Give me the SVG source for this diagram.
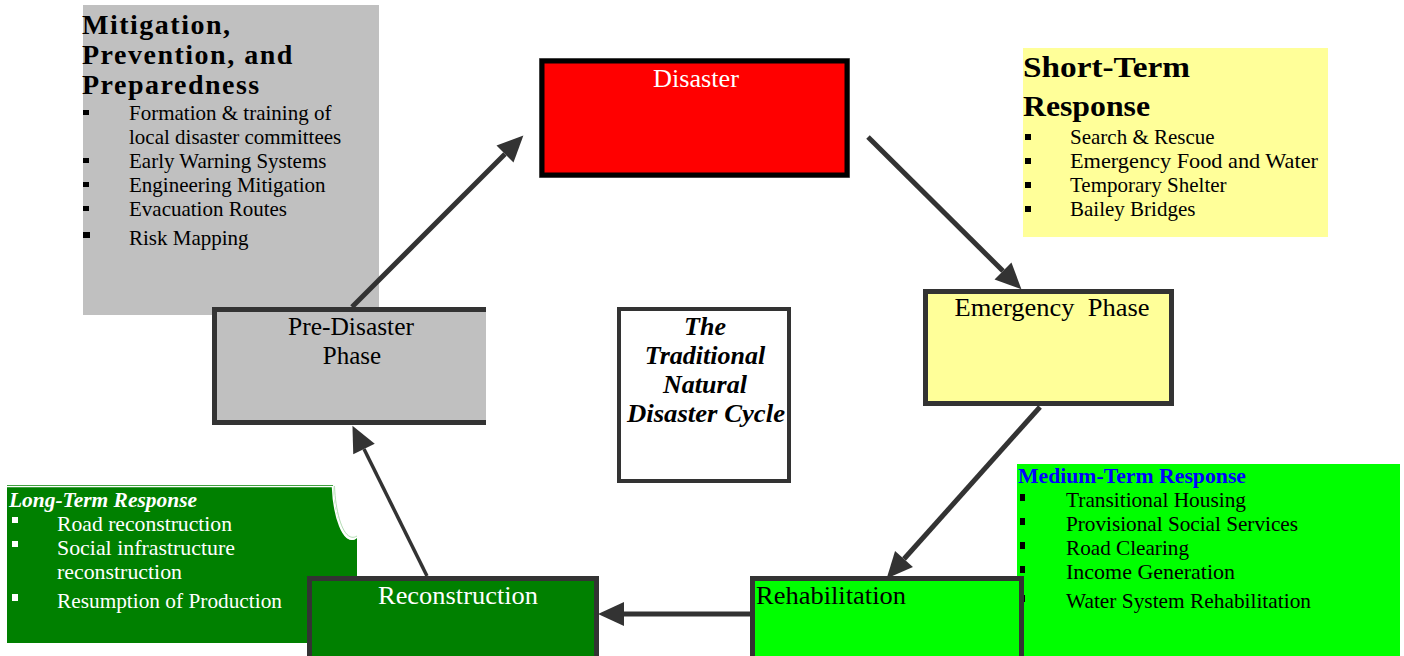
<svg xmlns="http://www.w3.org/2000/svg" width="1404" height="656" viewBox="0 0 1404 656">
<style>
text{font-family:"Liberation Serif","Times New Roman",serif;}
.b{font-size:21px;fill:#000;}
.bw{font-size:21px;fill:#fff;}
.ph{font-size:25px;}
.ttl{font-weight:bold;}
.frame{stroke:#333;stroke-width:5;}
.arr{stroke:#333;stroke-width:5;fill:none;marker-end:url(#ah);}
</style>
<defs>
<marker id="ah" markerUnits="userSpaceOnUse" markerWidth="26" markerHeight="24" refX="0" refY="12" orient="auto" overflow="visible">
<path d="M0,0 L26,12 L0,24 Z" fill="#333"/>
</marker>
</defs>
<rect width="1404" height="656" fill="#fff"/>

<g id="mitigation">
<rect x="83" y="5" width="296" height="310" fill="#c0c0c0"/>
<text class="ttl" x="82" y="34" font-size="28" letter-spacing="1.5">Mitigation,</text>
<text class="ttl" x="82" y="64" font-size="28" letter-spacing="1.5">Prevention, and</text>
<text class="ttl" x="82" y="94" font-size="28" letter-spacing="1.5">Preparedness</text>
<rect x="83" y="110" width="6" height="5"/>
<rect x="83" y="158" width="6" height="5"/>
<rect x="83" y="182" width="6" height="5"/>
<rect x="83" y="206" width="6" height="5"/>
<rect x="83" y="232" width="7" height="6"/>
<text class="b" x="129" y="120">Formation &amp; training of</text>
<text class="b" x="129" y="144">local disaster committees</text>
<text class="b" x="129" y="168">Early Warning Systems</text>
<text class="b" x="129" y="192">Engineering Mitigation</text>
<text class="b" x="129" y="216">Evacuation Routes</text>
<text class="b" x="129" y="245">Risk Mapping</text>
</g>

<g id="short-term">
<rect x="1023" y="48" width="305" height="189" fill="#ffff99"/>
<text class="ttl" x="1023" y="77" font-size="30" textLength="167" lengthAdjust="spacingAndGlyphs">Short-Term</text>
<text class="ttl" x="1023" y="116" font-size="30" textLength="127" lengthAdjust="spacingAndGlyphs">Response</text>
<rect x="1025" y="134" width="6" height="6"/>
<rect x="1025" y="158" width="6" height="6"/>
<rect x="1025" y="182" width="6" height="6"/>
<rect x="1025" y="206" width="6" height="6"/>
<text class="b" x="1070" y="144">Search &amp; Rescue</text>
<text class="b" x="1070" y="168" textLength="248" lengthAdjust="spacingAndGlyphs">Emergency Food and Water</text>
<text class="b" x="1070" y="192">Temporary Shelter</text>
<text class="b" x="1070" y="216">Bailey Bridges</text>
</g>

<g id="medium-term">
<rect x="1017" y="464" width="383" height="192" fill="#00ff00"/>
<text class="ttl" x="1018" y="483" font-size="20" fill="#0000ff" textLength="228" lengthAdjust="spacingAndGlyphs">Medium-Term Response</text>
<rect x="1020" y="494" width="5" height="7"/>
<rect x="1020" y="518" width="5" height="7"/>
<rect x="1020" y="542" width="5" height="7"/>
<rect x="1020" y="566" width="5" height="7"/>
<rect x="1020" y="595" width="5" height="7"/>
<text class="b" x="1066" y="507" textLength="180" lengthAdjust="spacingAndGlyphs">Transitional Housing</text>
<text class="b" x="1066" y="531" textLength="232" lengthAdjust="spacingAndGlyphs">Provisional Social Services</text>
<text class="b" x="1066" y="555" textLength="123" lengthAdjust="spacingAndGlyphs">Road Clearing</text>
<text class="b" x="1066" y="579" textLength="169" lengthAdjust="spacingAndGlyphs">Income Generation</text>
<text class="b" x="1066" y="608" textLength="245" lengthAdjust="spacingAndGlyphs">Water System Rehabilitation</text>
</g>

<g id="long-term">
<path d="M7,485 H333 C334,515 343,548 357,538 V643 H7 Z" fill="#008000"/>
<path d="M7,486.5 H332.5 C333.5,515 343,546 356,538" fill="none" stroke="#fff" stroke-width="1.5"/>
<path d="M334.5,486 C335.5,514 344,544 357,536" fill="none" stroke="#9fd39f" stroke-width="0.8"/>
<text class="ttl" x="9" y="507" font-size="20" font-style="italic" fill="#fff" textLength="188" lengthAdjust="spacingAndGlyphs">Long-Term Response</text>
<rect x="12" y="517" width="6" height="6" fill="#fff"/>
<rect x="12" y="541" width="6" height="6" fill="#fff"/>
<rect x="12" y="594" width="6" height="7" fill="#fff"/>
<text class="bw" x="57" y="531" textLength="175" lengthAdjust="spacingAndGlyphs">Road reconstruction</text>
<text class="bw" x="57" y="555" textLength="178" lengthAdjust="spacingAndGlyphs">Social infrastructure</text>
<text class="bw" x="57" y="579" textLength="125" lengthAdjust="spacingAndGlyphs">reconstruction</text>
<text class="bw" x="57" y="608" textLength="225" lengthAdjust="spacingAndGlyphs">Resumption of Production</text>
</g>

<g id="disaster">
<rect x="539.5" y="58.5" width="310" height="119" fill="none" stroke="#888" stroke-width="1"/>
<rect x="542" y="61" width="305" height="114" fill="#ff0000" stroke="#000" stroke-width="5"/>
<text x="696" y="87" font-size="25" fill="#fff" text-anchor="middle" textLength="86" lengthAdjust="spacingAndGlyphs">Disaster</text>
</g>

<g id="emergency">
<rect x="925.5" y="291.5" width="246" height="112" fill="#ffff99" class="frame"/>
<text class="ph" x="1052" y="316" fill="#000" text-anchor="middle" textLength="195" lengthAdjust="spacingAndGlyphs" xml:space="preserve">Emergency  Phase</text>
</g>

<g id="pre-disaster">
<rect x="212" y="307" width="274" height="118" fill="#c0c0c0"/>
<path d="M486,309.5 H214.5 V422.5 H486" fill="none" class="frame"/>
<text class="ph" x="351" y="335" fill="#000" text-anchor="middle" textLength="126" lengthAdjust="spacingAndGlyphs">Pre-Disaster</text>
<text class="ph" x="352" y="364" fill="#000" text-anchor="middle">Phase</text>
</g>

<g id="cycle-title">
<rect x="619" y="309" width="170" height="172" fill="#fff" stroke="#333" stroke-width="4"/>
<text x="705" y="335" font-size="26" font-weight="bold" font-style="italic" text-anchor="middle">The</text>
<text x="705" y="364" font-size="26" font-weight="bold" font-style="italic" text-anchor="middle">Traditional</text>
<text x="705" y="393" font-size="26" font-weight="bold" font-style="italic" text-anchor="middle">Natural</text>
<text x="706" y="422" font-size="26" font-weight="bold" font-style="italic" text-anchor="middle" textLength="158" lengthAdjust="spacingAndGlyphs">Disaster Cycle</text>
</g>

<g id="rehabilitation">
<rect x="752.5" y="578.5" width="269" height="85" fill="#00ff00" class="frame"/>
<text class="ph" x="756" y="604" fill="#000" textLength="150" lengthAdjust="spacingAndGlyphs">Rehabilitation</text>
</g>

<g id="reconstruction">
<rect x="309.5" y="578.5" width="287" height="85" fill="#008000" class="frame"/>
<text class="ph" x="458" y="604" fill="#fff" text-anchor="middle" textLength="160" lengthAdjust="spacingAndGlyphs">Reconstruction</text>
</g>

<g id="connectors">
<line class="arr" x1="352" y1="307" x2="505" y2="154"/>
<line class="arr" x1="868" y1="137" x2="1003" y2="271"/>
<line class="arr" x1="1040" y1="407" x2="904" y2="559"/>
<line class="arr" x1="750" y1="614" x2="624" y2="614"/>
<line class="arr" x1="427" y1="576" x2="364" y2="449" style="stroke-width:3.5"/>
</g>
</svg>
